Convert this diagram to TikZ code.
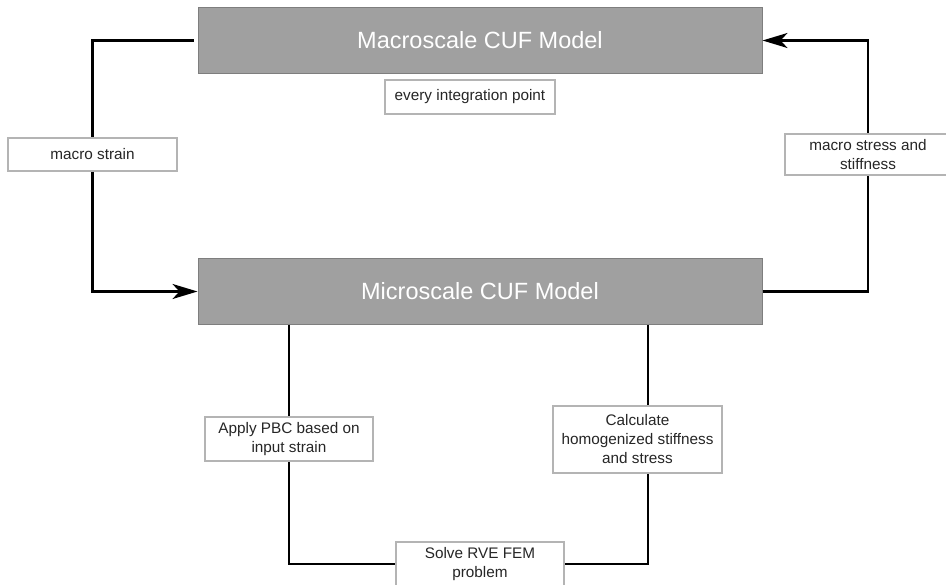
\documentclass[tikz,border=0pt]{standalone}
\usepackage{fontspec}
\setmainfont{Liberation Sans}
\usetikzlibrary{arrows.meta}
\definecolor{boxgray}{HTML}{A0A0A0}
\definecolor{edgegray}{HTML}{7E7E7E}
\definecolor{framegray}{HTML}{B4B4B4}

\begin{document}
\begin{tikzpicture}[x=1pt,y=-1pt,
	bigbox/.style={rectangle,draw=edgegray,line width=1pt,fill=boxgray,text=white,
		minimum width=564pt,minimum height=66pt,inner sep=0pt,
		font=\fontsize{23.5}{28}\selectfont},
	smallbox/.style={rectangle,draw=framegray,line width=2pt,fill=white,text=black!85,
		inner sep=0pt,align=center,font=\fontsize{15.3}{19}\selectfont},
	link/.style={draw=black,line width=2.6pt},
	inlink/.style={draw=black,line width=1.8pt},
	tip/.style={-{Stealth[length=25pt,width=15pt,inset=7pt]}}]
			\clip (0,0) rectangle (946,585);
			% the two models
			\node[bigbox] (macro) at (480,40.5) {Macroscale CUF Model};
			\node[bigbox] (micro) at (480,291.5) {Microscale CUF Model};
			\node[smallbox,minimum width=170pt,minimum height=34pt] (every) at (470,97) {every integration point};
			% exchanged quantities
			\node[smallbox,minimum width=169pt,minimum height=33pt] (strain) at (92.5,154.5) {macro strain};
			\node[smallbox,minimum width=166pt,minimum height=41pt] (stress) at (868,154.5) {macro stress and\\stiffness};
			% RVE loop
			\node[smallbox,minimum width=168pt,minimum height=44pt] (apply) at (289,439) {Apply PBC based on\\input strain};
			\node[smallbox,minimum width=169pt,minimum height=67pt] (calc) at (637.5,439.5) {Calculate\\homogenized stiffness\\and stress};
			\node[smallbox,minimum width=168pt,minimum height=44pt] (solve) at (480,564) {Solve RVE FEM\\problem};
			\coordinate (calctop) at ([xshift=10.5pt]calc.north);
			\coordinate (calcbot) at ([xshift=10.5pt]calc.south);
			% macro -> micro
			\draw[link] ([xshift=-4pt]macro.west) -| (strain.north);
			\draw[link,tip] (strain.south) |- (micro.west);
			% micro -> macro
			\draw[link] (micro.east) -| (stress.south);
			\draw[link,tip] (stress.north) |- (macro.east);
			% inside the micro model
			\draw[inlink] (micro.south -| apply.north) -- (apply.north);
			\draw[inlink] (apply.south) |- (solve.west);
			\draw[inlink] (solve.east) -| (calcbot);
			\draw[inlink] (calctop) -- (micro.south -| calctop);
\end{tikzpicture}
\end{document}
